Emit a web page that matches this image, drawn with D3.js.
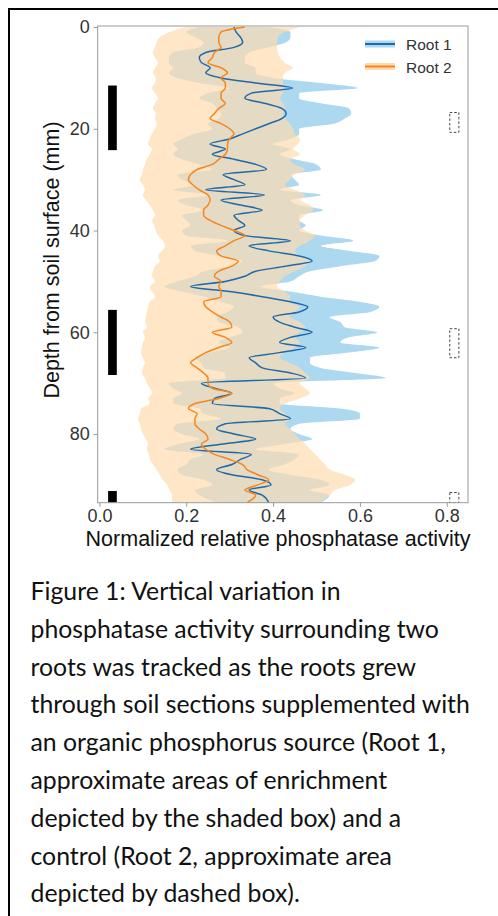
<!DOCTYPE html>
<html>
<head>
<meta charset="utf-8">
<script src="https://cdn.jsdelivr.net/npm/d3@7"></script>
<style>
body { margin: 0; background: #fff; }
svg { display: block; }
</style>
</head>
<body>
<script>
const depth = [0,1,2,3,4,5,6,7,8,9,10,11,12,13,14,15,16,17,18,19,20,21,22,23,24,25,26,27,28,29,30,31,32,33,34,35,36,37,38,39,40,41,42,43,44,45,46,47,48,49,50,51,52,53,54,55,56,57,58,59,60,61,62,63,64,65,66,67,68,69,70,71,72,73,74,75,76,77,78,79,80,81,82,83,84,85,86,87,88,89,90,91,92,93.5];

const root1 = [0.31,0.315,0.325,0.33,0.31,0.245,0.23,0.235,0.255,0.245,0.28,0.36,0.445,0.35,0.335,0.38,0.42,0.43,0.42,0.39,
  0.36,0.33,0.30,0.255,0.29,0.26,0.31,0.36,0.385,0.285,0.31,0.335,0.245,0.38,0.28,0.325,0.375,0.31,0.32,0.335,
  0.31,0.335,0.44,0.345,0.39,0.46,0.49,0.43,0.36,0.335,0.29,0.21,0.30,0.375,0.44,0.48,0.46,0.40,0.415,0.45,
  0.49,0.44,0.415,0.475,0.415,0.345,0.36,0.375,0.44,0.475,0.235,0.265,0.305,0.265,0.26,0.39,0.415,0.44,0.29,0.27,
  0.31,0.36,0.28,0.21,0.35,0.325,0.305,0.27,0.305,0.375,0.395,0.345,0.375,0.39];
const root1Lo = [0.23,0.20,0.22,0.24,0.23,0.17,0.16,0.16,0.17,0.16,0.18,0.23,0.30,0.25,0.23,0.26,0.27,0.28,0.275,0.25,
  0.26,0.22,0.19,0.17,0.18,0.17,0.19,0.23,0.26,0.18,0.19,0.22,0.17,0.25,0.18,0.20,0.24,0.19,0.20,0.21,
  0.19,0.20,0.295,0.21,0.22,0.275,0.33,0.30,0.24,0.22,0.18,0.15,0.19,0.24,0.28,0.31,0.295,0.27,0.275,0.32,
  0.33,0.30,0.275,0.30,0.255,0.22,0.235,0.24,0.29,0.29,0.16,0.17,0.19,0.17,0.17,0.23,0.24,0.28,0.18,0.17,
  0.19,0.23,0.18,0.15,0.24,0.21,0.20,0.18,0.19,0.24,0.26,0.22,0.23,0.27];
const root1Hi = [0.39,0.44,0.44,0.43,0.39,0.345,0.335,0.335,0.36,0.36,0.40,0.51,0.595,0.46,0.46,0.51,0.575,0.58,0.565,0.54,
  0.46,0.46,0.44,0.40,0.44,0.415,0.45,0.50,0.51,0.44,0.45,0.46,0.415,0.51,0.44,0.46,0.515,0.46,0.46,0.475,
  0.46,0.51,0.585,0.51,0.575,0.645,0.635,0.555,0.485,0.46,0.44,0.37,0.44,0.51,0.60,0.645,0.625,0.53,0.555,0.565,
  0.64,0.575,0.555,0.645,0.575,0.485,0.485,0.51,0.59,0.66,0.40,0.415,0.45,0.415,0.415,0.555,0.60,0.60,0.46,0.44,
  0.46,0.49,0.425,0.36,0.46,0.45,0.425,0.39,0.44,0.51,0.53,0.485,0.53,0.51];

const root2 = [0.335,0.28,0.275,0.275,0.28,0.265,0.26,0.25,0.28,0.295,0.28,0.29,0.29,0.28,0.28,0.29,0.275,0.265,0.255,0.28,
  0.30,0.31,0.30,0.295,0.295,0.29,0.275,0.26,0.225,0.21,0.205,0.215,0.23,0.25,0.255,0.25,0.24,0.24,0.255,0.28,
  0.31,0.335,0.31,0.29,0.27,0.28,0.32,0.305,0.275,0.265,0.28,0.275,0.28,0.28,0.24,0.245,0.26,0.28,0.30,0.305,
  0.26,0.29,0.305,0.275,0.245,0.225,0.21,0.225,0.24,0.25,0.25,0.26,0.305,0.275,0.22,0.205,0.225,0.22,0.22,0.23,
  0.245,0.25,0.235,0.245,0.265,0.30,0.33,0.34,0.365,0.39,0.365,0.335,0.36,0.34];
const root2Lo = [0.197,0.162,0.139,0.132,0.128,0.123,0.128,0.135,0.128,0.123,0.130,0.128,0.121,0.128,0.135,0.128,0.123,0.130,0.128,0.132,
  0.128,0.121,0.116,0.112,0.121,0.116,0.109,0.105,0.100,0.098,0.093,0.100,0.105,0.100,0.107,0.116,0.123,0.128,0.121,0.126,
  0.130,0.135,0.146,0.151,0.144,0.135,0.139,0.128,0.123,0.121,0.128,0.116,0.121,0.128,0.116,0.112,0.109,0.107,0.105,0.109,
  0.100,0.105,0.100,0.098,0.096,0.100,0.105,0.100,0.098,0.105,0.109,0.116,0.121,0.112,0.116,0.096,0.093,0.089,0.093,0.096,
  0.100,0.107,0.112,0.109,0.114,0.116,0.123,0.132,0.139,0.146,0.156,0.162,0.167,0.167];
const root2Hi = [0.462,0.427,0.411,0.409,0.409,0.411,0.416,0.427,0.446,0.427,0.423,0.423,0.427,0.423,0.416,0.423,0.427,0.423,0.427,0.439,
  0.446,0.450,0.462,0.457,0.446,0.462,0.439,0.450,0.474,0.450,0.439,0.427,0.450,0.474,0.462,0.485,0.492,0.474,0.462,0.462,
  0.474,0.497,0.485,0.462,0.450,0.462,0.485,0.474,0.450,0.427,0.416,0.409,0.427,0.439,0.439,0.462,0.450,0.439,0.462,0.474,
  0.462,0.450,0.462,0.450,0.427,0.416,0.439,0.462,0.474,0.485,0.462,0.474,0.485,0.462,0.427,0.416,0.427,0.439,0.427,0.439,
  0.450,0.462,0.474,0.485,0.497,0.508,0.520,0.531,0.566,0.589,0.577,0.543,0.531,0.508];

// supplemented (shaded) and control (dashed) zones, depth in mm
const enrichTop = [11.5, 55.6, 91.2];
const enrichBottom = [24.2, 68.4, 93.5];
const controlTop = [16.8, 59.3, 91.5];
const controlBottom = [20.7, 65.0, 93.5];
const enrichX = [0.02, 0.04];
const controlX = [0.807, 0.828];

const xTicks = [0, 0.2, 0.4, 0.6, 0.8];
const yTicks = [0, 20, 40, 60, 80];
const seriesNames = ["Root 1", "Root 2"];

const caption = [
  "Figure 1: Vertical variation in",
  "phosphatase activity surrounding two",
  "roots was tracked as the roots grew",
  "through soil sections supplemented with",
  "an organic phosphorus source (Root 1,",
  "approximate areas of enrichment",
  "depicted by the shaded box) and a",
  "control (Root 2, approximate area",
  "depicted by dashed box)."
];

const width = 498;
const height = 916;
const plot = {left: 97.7, right: 468, top: 26, bottom: 502.7};
const font = "Liberation Sans, Arial, sans-serif";

const svg = d3.select("body")
  .append("svg")
  .attr("width", width)
  .attr("height", height);

svg.append("path")
  .attr("d", "M9," + height + "V9H" + width)
  .attr("fill", "none")
  .attr("stroke", "#000")
  .attr("stroke-width", 2);

const x = d3.scaleLinear().domain([-0.004, 0.849]).range([plot.left, plot.right]);
const y = d3.scaleLinear().domain([-0.2, 93.5]).range([plot.top, plot.bottom]);

svg.append("clipPath")
  .attr("id", "clip")
  .append("rect")
  .attr("x", plot.left)
  .attr("y", plot.top)
  .attr("width", plot.right - plot.left)
  .attr("height", plot.bottom - plot.top);

const g = svg.append("g").attr("clip-path", "url(#clip)");

const band = (lo, hi) => d3.area()
  .y((d, i) => y(depth[i]))
  .x0((d, i) => x(lo[i]))
  .x1((d, i) => x(hi[i]))
  .curve(d3.curveMonotoneY);

const line = (vals) => d3.line()
  .y((d, i) => y(depth[i]))
  .x((d, i) => x(vals[i]))
  .curve(d3.curveMonotoneY);

g.append("path")
  .attr("d", band(root1Lo, root1Hi)(depth))
  .attr("fill", "#acd8f0");

g.append("path")
  .attr("d", band(root2Lo, root2Hi)(depth))
  .attr("fill", "#fedcaf")
  .attr("fill-opacity", 0.7);

g.append("path")
  .attr("d", line(root1)(depth))
  .attr("fill", "none")
  .attr("stroke", "#2069a8")
  .attr("stroke-width", 1.5);

g.append("path")
  .attr("d", line(root2)(depth))
  .attr("fill", "none")
  .attr("stroke", "#f7861c")
  .attr("stroke-width", 1.5);

g.selectAll(".enrich")
  .data(enrichTop)
  .enter()
  .append("rect")
  .attr("class", "enrich")
  .attr("x", x(enrichX[0]))
  .attr("width", x(enrichX[1]) - x(enrichX[0]))
  .attr("y", (d) => y(d))
  .attr("height", (d, i) => y(enrichBottom[i]) - y(d))
  .attr("fill", "#000");

g.selectAll(".control")
  .data(controlTop)
  .enter()
  .append("rect")
  .attr("class", "control")
  .attr("x", x(controlX[0]))
  .attr("width", x(controlX[1]) - x(controlX[0]))
  .attr("y", (d) => y(d))
  .attr("height", (d, i) => y(controlBottom[i]) - y(d))
  .attr("fill", "none")
  .attr("stroke", "#444")
  .attr("stroke-width", 1)
  .attr("stroke-dasharray", "2.5,2");

svg.append("rect")
  .attr("x", plot.left)
  .attr("y", plot.top)
  .attr("width", plot.right - plot.left)
  .attr("height", plot.bottom - plot.top)
  .attr("fill", "none")
  .attr("stroke", "#999")
  .attr("stroke-width", 1);

const xAxis = svg.append("g")
  .attr("transform", "translate(0," + plot.bottom + ")")
  .call(d3.axisBottom(x).tickValues(xTicks).tickFormat(d3.format(".1f")).tickSize(4).tickPadding(3));

const yAxis = svg.append("g")
  .attr("transform", "translate(" + plot.left + ",0)")
  .call(d3.axisLeft(y).tickValues(yTicks).tickSize(4).tickPadding(4));

[xAxis, yAxis].forEach((a) => {
  a.select(".domain").remove();
  a.selectAll(".tick line").attr("stroke", "#999");
  a.selectAll(".tick text")
    .attr("fill", "#333")
    .style("font-family", font)
    .style("font-size", "18px");
});

svg.append("text")
  .attr("x", 278)
  .attr("y", 546)
  .attr("text-anchor", "middle")
  .style("font-family", font)
  .style("font-size", "21.5px")
  .attr("fill", "#111")
  .text("Normalized relative phosphatase activity");

svg.append("text")
  .attr("transform", "translate(59,260) rotate(-90)")
  .attr("text-anchor", "middle")
  .style("font-family", font)
  .style("font-size", "21.5px")
  .attr("fill", "#111")
  .text("Depth from soil surface (mm)");

const legendColors = [["#acd8f0", "#2069a8"], ["#fedcaf", "#f7861c"]];
const legend = svg.selectAll(".legend")
  .data(seriesNames)
  .enter()
  .append("g")
  .attr("class", "legend")
  .attr("transform", (d, i) => "translate(365," + (44 + 22.5 * i) + ")");

legend.append("rect")
  .attr("x", 0)
  .attr("y", -3.5)
  .attr("width", 30)
  .attr("height", 7)
  .attr("fill", (d, i) => legendColors[i][0]);

legend.append("line")
  .attr("x1", 0)
  .attr("x2", 30)
  .attr("stroke", (d, i) => legendColors[i][1])
  .attr("stroke-width", 2);

legend.append("text")
  .attr("x", 41)
  .attr("y", 6)
  .style("font-family", font)
  .style("font-size", "15.5px")
  .attr("fill", "#333")
  .text((d) => d);

const cap = svg.append("g")
  .style("font-family", "Lato, sans-serif")
  .attr("fill", "#111");

const capLines = cap.selectAll("text")
  .data(caption)
  .enter()
  .append("text")
  .attr("x", 30.5)
  .attr("y", (d, i) => 600 + 37.8 * i)
  .style("font-size", "22px")
  .text((d) => d);

const longest = capLines.nodes()[3].getComputedTextLength();
capLines.style("font-size", (22 * 439.5 / longest) + "px");
</script>
</body>
</html>
